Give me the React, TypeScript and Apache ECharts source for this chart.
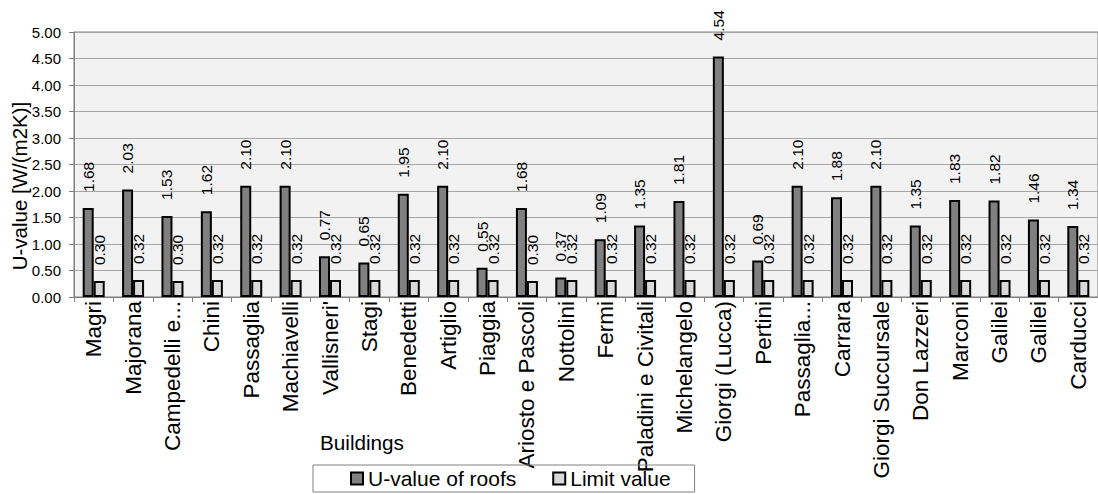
import React, { useEffect, useRef } from "react";
import * as echarts from "echarts";

const categories = [
  "Magri", "Majorana", "Campedelli e...", "Chini", "Passaglia", "Machiavelli",
  "Vallisneri'", "Stagi", "Benedetti", "Artiglio", "Piaggia", "Ariosto e Pascoli",
  "Nottolini", "Fermi", "Paladini e Civitali", "Michelangelo", "Giorgi (Lucca)",
  "Pertini", "Passaglia...", "Carrara", "Giorgi Succursale", "Don Lazzeri",
  "Marconi", "Galilei", "Galilei", "Carducci",
];
const roofValues = [
  1.68, 2.03, 1.53, 1.62, 2.10, 2.10, 0.77, 0.65, 1.95, 2.10, 0.55, 1.68, 0.37,
  1.09, 1.35, 1.81, 4.54, 0.69, 2.10, 1.88, 2.10, 1.35, 1.83, 1.82, 1.46, 1.34,
];
const limitValues = [
  0.30, 0.32, 0.30, 0.32, 0.32, 0.32, 0.32, 0.32, 0.32, 0.32, 0.32, 0.30, 0.32,
  0.32, 0.32, 0.32, 0.32, 0.32, 0.32, 0.32, 0.32, 0.32, 0.32, 0.32, 0.32, 0.32,
];
const seriesNames = ["U-value of roofs", "Limit value"];
const yAxisTitle = "U-value [W/(m2K)]";
const xAxisTitle = "Buildings";

const FONT = "Arial, 'Liberation Sans', sans-serif";

export default function App() {
  const ref = useRef<HTMLDivElement>(null);
  useEffect(() => {
    if (!ref.current) return;
    const chart = echarts.init(ref.current, null, { renderer: "svg" });
    const labelCfg = {
      show: true,
      position: "top",
      rotate: 90,
      align: "left",
      verticalAlign: "middle",
      distance: 16,
      fontSize: 15.5,
      fontFamily: FONT,
      color: "#000",
      formatter: (p: any) => Number(p.value).toFixed(2),
    };
    chart.setOption({
      animation: false,
      backgroundColor: "#ffffff",
      textStyle: { fontFamily: FONT },
      grid: {
        left: 74,
        top: 32,
        right: -8,
        bottom: 197,
        show: true,
        backgroundColor: "#f2f2f2",
        borderColor: "#808080",
        borderWidth: 1,
      },
      legend: {
        left: 313,
        top: 465,
        orient: "horizontal",
        data: seriesNames,
        itemWidth: 12,
        itemHeight: 12,
        itemGap: 36,
        padding: [3, 24, 3, 37],
        borderColor: "#808080",
        borderWidth: 1,
        icon: "rect",
        textStyle: { fontSize: 21, fontFamily: FONT, color: "#000" },
      },
      xAxis: {
        type: "category",
        data: categories,
        axisLine: { show: true, lineStyle: { color: "#808080", width: 1 } },
        axisTick: { show: true, length: 5, lineStyle: { color: "#808080" } },
        axisLabel: {
          rotate: 90,
          interval: 0,
          margin: 4,
          fontSize: 22.5,
          fontFamily: FONT,
          color: "#000",
        },
      },
      yAxis: {
        type: "value",
        min: 0,
        max: 5,
        interval: 0.5,
        axisLine: { show: true, lineStyle: { color: "#808080", width: 1 } },
        axisTick: { show: true, length: 5, lineStyle: { color: "#808080" } },
        axisLabel: {
          margin: 13,
          fontSize: 15,
          fontFamily: FONT,
          color: "#000",
          formatter: (v: number) => v.toFixed(2),
        },
        splitLine: { show: true, lineStyle: { color: "#a6a6a6", width: 1 } },
      },
      graphic: [
        {
          type: "text",
          x: 19,
          y: 186,
          rotation: Math.PI / 2,
          style: {
            text: yAxisTitle,
            fontSize: 20.5,
            fontFamily: FONT,
            fill: "#000",
            align: "center",
            verticalAlign: "middle",
          },
        },
        {
          type: "text",
          left: 320,
          top: 432,
          style: {
            text: xAxisTitle,
            fontSize: 20.7,
            fontFamily: FONT,
            fill: "#000",
          },
        },
      ],
      series: [
        {
          name: seriesNames[0],
          type: "bar",
          data: roofValues,
          barWidth: 11,
          barGap: "0%",
          itemStyle: { color: "#808080", borderColor: "#000", borderWidth: 2 },
          label: labelCfg,
        },
        {
          name: seriesNames[1],
          type: "bar",
          data: limitValues,
          barWidth: 11,
          barGap: "0%",
          itemStyle: { color: "#d9d9d9", borderColor: "#000", borderWidth: 2 },
          label: labelCfg,
        },
      ],
    });
    return () => chart.dispose();
  }, []);
  return (
    <div
      ref={ref}
      style={{ position: "fixed", left: 0, top: 0, width: 1098, height: 494 }}
    />
  );
}
